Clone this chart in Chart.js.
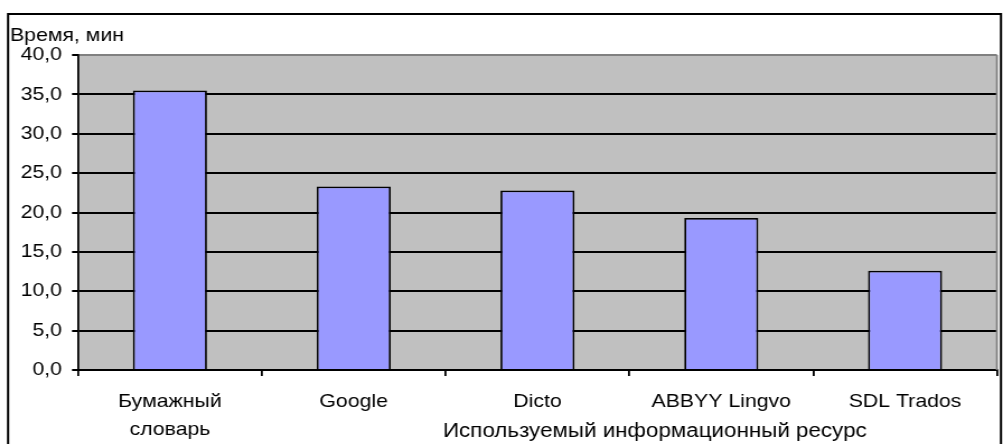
<!DOCTYPE html>
<html>
<head>
<meta charset="utf-8">
<script src="https://cdn.jsdelivr.net/npm/chart.js@4.4.1/dist/chart.umd.min.js"></script>
<style>
  html, body { margin: 0; padding: 0; background: #fff; overflow: hidden; }
  /* reference is a horizontally stretched Excel chart, so draw narrow and stretch */
  #wrap { width: 896px; height: 444px; transform: scaleX(1.1194); transform-origin: 0 0; }
</style>
</head>
<body>
<div id="wrap"><canvas id="chart" width="896" height="444"></canvas></div>
<script>
const categories = [['Бумажный', 'словарь'], 'Google', 'Dicto', 'ABBYY Lingvo', 'SDL Trados'];
const minutes = [35.5, 23.3, 22.8, 19.3, 12.6];
const yTicks = [0, 5, 10, 15, 20, 25, 30, 35, 40];
const yTitle = 'Время, мин';
const xTitle = 'Используемый информационный ресурс';

const FONT = '"Liberation Sans", Arial, sans-serif';
Chart.defaults.font.family = FONT;
Chart.defaults.font.size = 19;
Chart.defaults.color = '#000';

// plot background, outer frame and titles
const excelLook = {
  id: 'excelLook',
  beforeDraw(chart) {
    const { ctx, chartArea: a } = chart;
    ctx.save();
    ctx.fillStyle = '#C0C0C0';
    ctx.fillRect(a.left, a.top, a.right - a.left, a.bottom - a.top);
    ctx.strokeStyle = '#000';
    ctx.lineWidth = 2;
    ctx.beginPath();
    ctx.moveTo(7.2, 460); ctx.lineTo(7.2, 14); ctx.lineTo(894.2, 14); ctx.lineTo(894.2, 460);
    ctx.stroke();
    ctx.fillStyle = '#000';
    ctx.textBaseline = 'alphabetic';
    ctx.textAlign = 'left';
    ctx.font = '19px ' + FONT;
    ctx.fillText(yTitle, 8.9, 41);
    ctx.font = '20px ' + FONT;
    ctx.fillText(xTitle, 395.7, 436.5);
    ctx.restore();
  },
  beforeDatasetsDraw(chart) {
    const { ctx, chartArea: a } = chart;
    ctx.save();
    ctx.strokeStyle = '#808080';
    ctx.lineWidth = 1.8;
    ctx.beginPath();
    ctx.moveTo(a.right, a.top); ctx.lineTo(a.right, a.bottom);
    ctx.stroke();
    ctx.restore();
  }
};

new Chart(document.getElementById('chart'), {
  type: 'bar',
  data: {
    labels: categories,
    datasets: [{
      data: minutes,
      backgroundColor: '#9999FF',
      borderColor: '#000',
      borderWidth: 1.8,
      borderSkipped: 'bottom',
      categoryPercentage: 1,
      barPercentage: 0.403
    }]
  },
  options: {
    responsive: false,
    animation: false,
    devicePixelRatio: 1,
    layout: { padding: { top: 55, right: 5.4, left: 0, bottom: 0 } },
    plugins: { legend: { display: false }, tooltip: { enabled: false } },
    scales: {
      x: {
        offset: true,
        grid: { offset: true, drawOnChartArea: false, drawTicks: true, tickLength: 6, color: '#000', lineWidth: 1.8 },
        border: { display: true, color: '#000', width: 2 },
        ticks: { maxRotation: 0, autoSkip: false, padding: 11.5, color: '#000', font: { size: 19, lineHeight: 1.47 } },
        afterFit(s) { s.height = 74; }
      },
      y: {
        min: 0,
        max: 40,
        afterBuildTicks(s) { s.ticks = yTicks.map(v => ({ value: v })); },
        grid: {
          color: c => (c.tick && c.tick.value === 40 ? '#808080' : '#000'),
          tickColor: '#000',
          lineWidth: 2,
          tickLength: 5.4,
          drawTicks: true
        },
        border: { display: true, color: '#000', width: 1.8 },
        ticks: {
          padding: 8.9,
          color: '#000',
          font: { size: 19 },
          callback: v => v.toFixed(1).replace('.', ',')
        },
        afterFit(s) { s.width = 69.7; }
      }
    }
  },
  plugins: [excelLook]
});
</script>
</body>
</html>
